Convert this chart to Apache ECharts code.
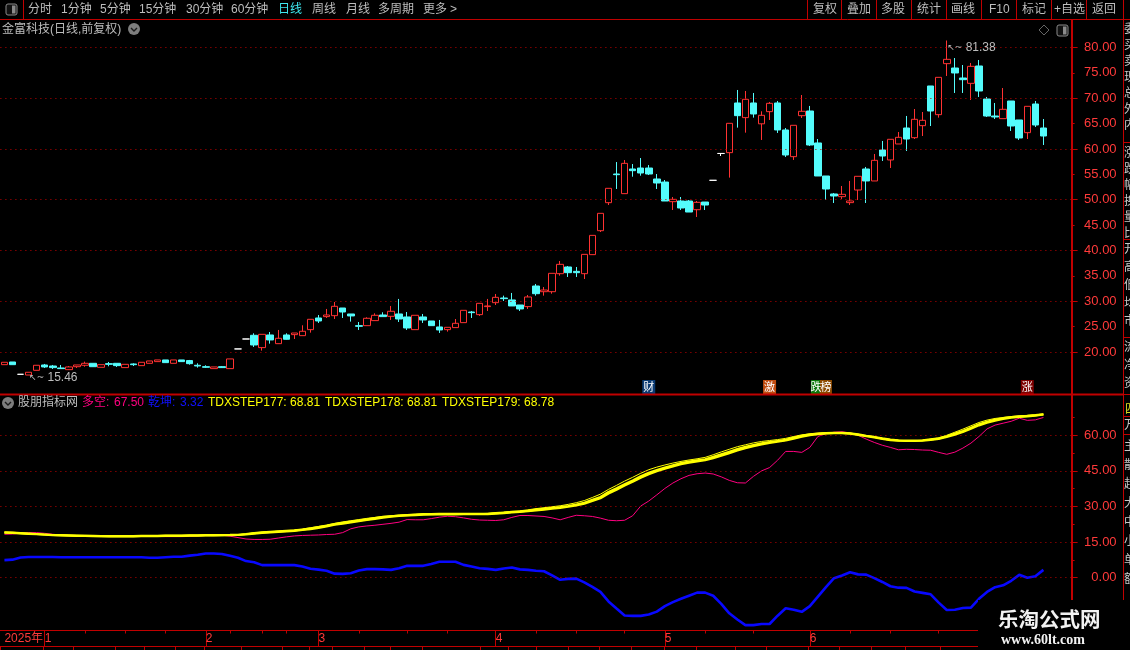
<!DOCTYPE html>
<html><head><meta charset="utf-8">
<style>html,body{margin:0;padding:0;background:#000;overflow:hidden}#c{width:1130px;height:650px}</style>
<script src="https://cdn.jsdelivr.net/npm/echarts@6/dist/echarts.min.js"></script>
</head><body><div id="c"></div>
<script>
const opens=[17.5,18.03,15.6,15.46,16.39,17.44,17.24,16.85,16.52,17.1,
17.38,17.77,16.98,17.7,17.77,16.92,17.64,17.31,17.77,18.1,
18.43,17.77,18.43,18.3,17.38,17.11,16.72,17.11,16.72,20.6,
22.56,23.29,20.86,23.35,21.64,23.35,23.42,23.22,24.4,26.7,
26.97,27.16,28.67,27.49,25.19,25.19,26.18,27.29,27.03,27.49,
26.9,24.4,26.9,26.11,24.93,24.4,24.8,25.78,27.88,27.36,
28.94,29.72,30.64,30.25,29.26,28.94,33.0,31.88,31.88,35.43,
36.75,35.89,35.43,39.18,43.9,49.42,55.07,51.2,56.06,56.25,
56.25,54.09,53.49,49.62,49.75,49.75,48.04,49.55,53.83,59.12,
59.28,69.07,66.18,69.07,64.96,67.36,69.07,63.75,58.49,66.57,
67.49,61.19,54.68,51.14,50.61,49.43,51.92,56.06,53.7,59.81,
57.84,60.99,64.14,62.23,64.6,72.42,66.77,76.82,75.96,73.99,
72.94,76.36,69.85,66.5,65.98,69.46,65.72,63.22,68.87,64.14];
const closes=[17.97,17.5,15.6,16.0,17.38,17.05,16.92,16.72,17.05,17.44,
17.77,17.1,17.5,17.57,17.31,17.57,17.5,17.97,18.23,18.43,
17.9,18.43,18.1,17.7,17.24,16.98,17.05,16.92,18.63,20.6,
22.56,21.38,23.48,22.37,22.7,22.5,23.74,24.08,26.44,26.11,
27.29,29.0,27.88,27.1,25.06,26.64,27.23,26.97,28.02,26.5,
24.73,27.23,26.31,25.19,24.34,24.86,25.65,28.21,27.75,29.59,
29.07,30.77,30.51,29.07,28.48,30.84,31.49,32.21,35.5,37.27,
35.63,35.63,39.24,42.98,47.32,52.25,54.94,57.17,55.73,55.27,
55.07,53.3,49.75,50.08,48.37,47.58,49.49,48.96,53.83,59.12,
65.06,66.57,69.79,66.9,66.64,69.0,63.75,58.82,64.67,67.43,
60.79,54.68,52.12,50.74,51.07,49.76,54.62,53.7,57.77,58.62,
61.91,62.3,61.97,65.85,65.65,67.49,74.12,77.67,74.98,73.66,
76.29,71.43,66.5,66.31,67.82,64.53,62.17,68.41,64.73,62.56];
const lows=[17.5,17.5,15.6,15.46,16.39,16.85,16.65,16.65,16.46,16.85,
17.1,17.1,16.98,17.18,17.05,16.92,17.24,17.31,17.77,18.1,
17.9,17.77,18.1,17.5,16.92,16.85,16.72,16.85,16.72,20.6,
22.56,20.99,20.27,21.64,21.64,22.44,22.56,23.22,23.81,25.72,
26.7,26.5,26.7,25.98,24.34,25.19,26.18,26.97,26.31,25.91,
24.34,24.4,25.72,25.19,23.75,24.01,24.8,25.78,26.7,27.1,
28.08,29.26,30.05,29.07,28.08,28.48,31.1,31.1,31.49,35.04,
34.78,34.78,34.38,39.18,43.64,48.96,52.12,51.2,54.54,54.74,
54.87,52.12,49.75,47.98,47.98,47.58,46.6,47.98,53.83,58.62,
54.36,64.21,63.22,66.18,61.78,65.72,63.16,58.43,57.84,66.11,
60.6,54.68,49.95,49.36,50.15,48.97,49.95,49.36,53.7,57.64,
56.26,60.99,59.61,61.97,62.56,64.53,66.18,74.39,71.04,71.04,
69.66,70.25,66.31,65.91,65.98,63.55,61.78,61.97,64.34,60.79];
const highs=[17.97,18.03,15.6,16.0,17.38,17.64,17.44,17.44,17.24,17.44,
18.1,17.77,17.5,18.03,17.77,17.57,17.77,17.97,18.23,18.43,
18.43,18.43,18.43,18.43,17.77,17.38,17.05,17.24,18.63,20.6,
22.56,23.68,23.48,23.94,24.34,23.68,23.74,25.26,26.44,27.29,
28.48,29.85,28.67,27.49,25.91,26.83,27.62,27.82,29.07,30.45,
27.88,27.23,27.49,26.11,26.31,24.86,26.5,28.21,28.08,29.59,
30.45,31.43,31.1,31.63,29.26,31.23,33.4,32.8,35.5,37.93,
36.94,36.75,39.24,42.98,47.32,52.25,57.43,57.83,57.04,58.22,
56.84,55.07,53.89,50.54,50.54,49.95,49.75,49.55,53.83,59.12,
65.06,71.63,71.43,71.04,67.43,69.27,69.46,64.14,64.67,70.64,
68.48,61.97,54.68,51.33,52.71,53.7,54.62,56.46,59.02,61.58,
61.91,63.35,66.51,67.88,67.29,72.42,74.12,81.38,77.93,76.55,
76.95,77.54,70.25,69.07,72.02,69.46,65.72,68.41,69.46,65.91];
const duokong=[18.3,18.4,18.7,19.0,19.0,18.7,18.3,18.0,17.8,17.7,
17.6,17.5,17.5,17.5,17.5,17.5,17.5,17.5,17.5,17.4,
17.3,17.3,17.3,17.4,17.6,17.8,17.9,17.9,17.5,16.9,
16.3,16.1,16.1,16.2,16.7,17.2,17.6,17.8,17.9,18.0,
18.2,18.3,19.0,20.6,21.4,21.8,22.1,22.5,22.9,23.4,
24.5,24.4,24.4,24.9,25.5,25.9,25.7,25.2,24.6,24.3,
24.2,24.1,24.4,25.4,26.2,26.2,26.0,25.8,25.2,24.4,
25.4,26.3,26.1,25.8,25.1,24.2,24.0,24.2,26.1,30.2,
32.3,34.9,37.6,39.9,41.7,43.1,43.8,44.1,43.7,42.5,
41.0,40.0,39.9,42.7,45.0,46.4,49.5,53.2,53.2,52.8,
54.9,59.5,60.7,61.3,61.5,61.0,60.0,58.4,57.0,55.8,
54.9,53.9,54.1,54.0,53.8,53.7,52.8,52.0,52.9,54.6,
56.7,59.5,62.7,64.3,65.1,65.9,67.2,66.3,66.5,67.5];
const qiankun=[7.4,7.6,8.5,8.7,8.7,8.7,8.7,8.6,8.6,8.6,
8.6,8.6,8.6,8.6,8.6,8.6,8.6,8.6,8.4,8.4,
8.6,8.8,8.8,9.3,9.7,10.2,10.2,10.0,9.2,8.4,
7.0,6.5,5.3,5.3,5.3,5.3,5.3,4.7,3.8,3.4,
2.9,1.7,1.6,1.9,3.0,3.6,3.6,3.5,3.3,4.0,
5.0,5.0,5.0,5.8,6.7,6.7,6.7,5.4,4.7,4.0,
3.7,3.3,3.9,4.3,3.5,3.3,2.9,2.7,1.0,-0.9,
-0.5,-0.4,-2.0,-3.9,-6.0,-10.0,-13.0,-15.9,-16.1,-16.1,
-15.5,-14.3,-12.0,-10.3,-8.9,-7.6,-6.3,-6.3,-7.6,-11.0,
-15.0,-17.6,-20.0,-20.0,-19.5,-19.5,-16.0,-12.9,-13.5,-14.4,
-12.0,-8.0,-4.0,-0.2,0.9,2.3,1.4,1.3,-0.2,-1.8,
-3.6,-4.2,-4.3,-5.8,-6.4,-7.0,-10.5,-13.6,-13.5,-12.8,
-12.6,-8.9,-6.0,-4.0,-3.2,-1.3,1.2,0.0,0.6,3.3];
const step178=[19.1,19.0,18.8,18.6,18.4,18.2,18.0,17.9,17.8,17.7,
17.6,17.6,17.5,17.5,17.5,17.5,17.5,17.6,17.6,17.6,
17.7,17.7,17.7,17.8,17.8,17.9,17.9,17.95,18.0,18.06,
18.4,18.8,19.1,19.3,19.5,19.7,19.9,20.3,20.8,21.3,
21.9,22.6,23.1,23.6,24.1,24.6,25.1,25.6,25.9,26.2,
26.4,26.6,26.75,26.8,26.85,26.85,26.85,26.9,26.9,26.9,
26.95,27.2,27.4,27.7,27.9,28.2,28.7,29.0,29.4,29.7,
30.2,30.8,31.6,32.8,34.0,36.1,37.7,39.4,41.0,42.7,
44.2,45.4,46.4,47.4,48.3,48.9,49.4,49.9,50.9,52.0,
53.1,54.2,55.1,55.9,56.6,57.1,57.6,58.1,59.0,59.8,
60.4,60.7,60.95,61.0,61.0,60.85,60.4,59.8,59.3,58.7,
58.2,57.9,57.75,57.75,57.9,58.3,58.7,59.6,60.7,61.8,
63.2,64.6,65.7,66.6,67.2,67.7,68.0,68.2,68.5,68.81];
const step177=[19.1,19.0,18.8,18.6,18.4,18.2,18.0,17.9,17.8,17.7,
17.6,17.6,17.5,17.5,17.5,17.5,17.5,17.6,17.6,17.6,
17.7,17.7,17.7,17.8,17.8,17.9,17.9,17.95,18.0,18.1,
18.5,18.9,19.2,19.4,19.6,19.8,20.0,20.5,21.0,21.6,
22.2,22.9,23.5,24.0,24.5,25.0,25.4,25.8,26.1,26.4,
26.6,26.7,26.8,26.9,26.9,26.9,26.9,27.0,27.0,27.0,
27.1,27.3,27.6,27.9,28.2,28.6,29.1,29.5,29.9,30.3,
30.9,31.6,32.5,33.8,35.2,37.2,38.9,40.7,42.3,44.0,
45.5,46.6,47.5,48.3,49.0,49.6,50.1,50.7,51.8,53.0,
54.1,55.2,56.0,56.8,57.4,57.8,58.2,58.7,59.5,60.2,
60.6,60.9,61.1,61.1,61.0,60.85,60.4,59.8,59.3,58.7,
58.2,57.9,57.75,57.75,57.9,58.3,58.9,60.0,61.3,62.6,
64.0,65.4,66.4,67.1,67.5,67.9,68.2,68.4,68.6,68.81];
const step179=[19.0,18.9,18.7,18.5,18.3,18.1,17.9,17.8,17.7,17.6,
17.6,17.5,17.5,17.4,17.4,17.4,17.4,17.5,17.5,17.5,
17.6,17.6,17.6,17.7,17.7,17.8,17.8,17.9,17.9,18.0,
18.2,18.6,18.9,19.1,19.3,19.5,19.7,20.1,20.5,21.0,
21.6,22.3,22.8,23.3,23.8,24.3,24.8,25.3,25.7,26.0,
26.2,26.4,26.6,26.7,26.7,26.7,26.7,26.8,26.8,26.8,
26.8,27.0,27.2,27.5,27.7,28.0,28.4,28.7,29.1,29.4,
29.9,30.5,31.2,32.3,33.5,35.5,37.1,38.8,40.4,42.1,
43.6,44.9,45.9,46.9,47.8,48.5,49.0,49.5,50.4,51.4,
52.5,53.6,54.6,55.4,56.2,56.8,57.3,57.8,58.6,59.4,
60.1,60.5,60.8,60.9,60.9,60.7,60.2,59.6,59.1,58.5,
58.0,57.7,57.6,57.6,57.7,58.1,58.5,59.3,60.3,61.4,
62.8,64.2,65.3,66.2,66.9,67.4,67.8,68.0,68.3,68.78];
const priceMajor=[20,30,40,50,60,70,80];
const priceMinor=[25,35,45,55,65,75];
const priceLabels=[20,25,30,35,40,45,50,55,60,65,70,75,80];
const indMajor=[0,15,30,45,60];
const indMinor=[7.5,22.5,37.5,52.5,67.5];
const slotCount=133;
const monthLabels={0:'2025年',5:'1',25:'2',39:'3',61:'4',82:'5',100:'6'};
const weekTicks=[10,15,20,28,32,35,44,50,55,66,71,77,87,93,105,110,116];
const eventTags=[[80,'财','#0a3a72',13,0],[95,'激','#c04c10',13,0],[101,'跌','#0a780a',10,-2],[102,'榜','#8c4a00',12,0],[127,'涨','#7c0000',13,0]];
const toolbarLeft=[['分时',28],['1分钟',61],['5分钟',100],['15分钟',139],['30分钟',186],['60分钟',231],['日线',278,'#3fe8f0'],['周线',312],['月线',346],['多周期',378],['更多',423],['>',450]];
const toolbarRight=[['复权',813],['叠加',847],['多股',881],['统计',917],['画线',951],['F10',989],['标记',1022],['+自选',1054],['返回',1092]];
const toolbarSeps=[807.5,841.5,876.5,911.5,946.5,981.5,1016.5,1051.5,1086.5,1123.5];
const legendBits=[['多空:',82,'#ff0080'],['67.50',114,'#ff0080'],['乾坤:',148,'#1010ff'],['3.32',180,'#1010ff'],['TDXSTEP177: 68.81',208,'#ffff00'],['TDXSTEP178: 68.81',325,'#ffff00'],['TDXSTEP179: 68.78',442,'#ffff00']];
const sideRows=[[28,'委'],[44,'买'],[60,'卖'],[76,'现'],[92,'总'],[108,'外'],[124,'内'],[152,'涨'],[168,'跌'],[184,'幅'],[200,'换'],[216,'量'],[232,'比'],[248,'开'],[266,'高'],[284,'低'],[302,'均'],[320,'市'],[346,'流'],[364,'净'],[382,'资'],[424,'万'],[445,'主'],[464,'散'],[483,'超'],[502,'大'],[521,'中'],[540,'小'],[559,'单'],[578,'额']];
const tabSeps=[0,43,73,115,144,175,204,241,282,309,332,364,390,422,480,508,536,568,599,631,664,696,735,766,808,839,871,905,940];

const SANS='"Liberation Sans","Noto Sans CJK SC",sans-serif';
const CJK='"Noto Sans CJK SC",sans-serif';
const RED='#c00000', LABEL='#ff3a3a', GRAY='#bdbdbd';
const cats=Array.from({length:slotCount},(_,i)=>monthLabels[i]||'');
const candle=opens.map((o,i)=>[o,closes[i],lows[i],highs[i]]);

const g=[];
const t=(x,y,s,fill,font,z,extra)=>g.push({type:'text',x,y,z:z||20,silent:true,style:Object.assign({text:s,fill,font:font||('12px '+CJK),textVerticalAlign:'middle',textBaseline:'middle'},extra||{})});
const ln=(x1,y1,x2,y2,c,w,z)=>g.push({type:'line',z:z||20,silent:true,shape:{x1,y1,x2,y2},style:{stroke:c||RED,lineWidth:w||1}});
const chev=(cx,cy)=>{g.push({type:'circle',z:20,silent:true,shape:{cx,cy,r:6},style:{fill:'#7d7d7d'}});
 g.push({type:'polyline',z:21,silent:true,shape:{points:[[cx-3,cy-1],[cx,cy+2],[cx+3,cy-1]]},style:{stroke:'#1a1a1a',lineWidth:1.4,fill:null}});};
const boxIcon=(x,y)=>{g.push({type:'rect',z:20,silent:true,shape:{x,y,width:11,height:11,r:2},style:{fill:'#111',stroke:'#8a8a8a',lineWidth:1}});
 g.push({type:'rect',z:21,silent:true,shape:{x:x+6,y:y+1.5,width:3.5,height:8},style:{fill:'#8a8a8a'}});};

ln(0,19.5,1130,19.5,RED,1);
ln(23.5,0,23.5,19,RED,1);
boxIcon(6,4);
toolbarLeft.forEach(a=>t(a[1],10,a[0],a[2]||GRAY,'12px '+SANS));
toolbarRight.forEach(a=>t(a[1],10,a[0],GRAY,'12px '+SANS));
toolbarSeps.forEach(x=>ln(x,0,x,19,RED,1));
t(2,29.5,'金富科技(日线,前复权)',GRAY,'12px '+SANS);
chev(134,29);
g.push({type:'polygon',z:20,silent:true,shape:{points:[[1044,25],[1049,30],[1044,35],[1039,30]]},style:{fill:null,stroke:'#666',lineWidth:1}});
boxIcon(1057,25);
ln(1123.5,0,1123.5,650,RED,1);
ln(0,394.5,1123,394.5,RED,2);
[142,239,337,394,416,434].forEach(y=>ln(1124,y+.5,1130,y+.5,RED,1));
chev(8,403);
t(18,403,'股朋指标网',GRAY,'12px '+SANS);
legendBits.forEach(a=>t(a[1],403,a[0],a[2],'12px '+SANS));
sideRows.forEach(a=>t(1124,a[0],a[1],'#c8c8c8','12px '+CJK,3));
t(1125,408,'四','#d8d820','12px '+CJK,3);
tabSeps.forEach(x=>ln(x+.5,647,x+.5,650,RED,1));
g.push({type:'rect',z:60,silent:true,shape:{x:978,y:600,width:152,height:50},style:{fill:'#000'}});
t(998,619,'乐淘公式网','#f2f2f2','bold 20.5px '+CJK,61,{shadowColor:'#888',shadowBlur:2});
t(1001,640,'www.60lt.com','#f2f2f2','bold 14px "Liberation Serif",serif',61);

const tagData=eventTags.map(e=>({coord:[e[0],13.1],value:e[1],symbolSize:[e[3],14],symbolOffset:[e[4],0],itemStyle:{color:e[2]},label:{show:true,formatter:e[1],color:'#fff',fontSize:11,fontFamily:CJK,position:'inside'}}));
const note=(i,v,dy)=>({coord:[i,v],value:v,symbol:'circle',symbolSize:1,itemStyle:{color:'rgba(0,0,0,0)'},label:{show:true,position:'right',distance:0,formatter:'{a|↖~} '+v.toFixed(2),color:GRAY,fontSize:12,fontFamily:SANS,offset:[0,dy],rich:{a:{fontSize:9,color:GRAY,fontFamily:'"DejaVu Sans"'}}}});
const extremes=[note(3,15.46,3),note(117,81.38,7)];
const dots=vals=>({silent:true,symbol:'none',animation:false,label:{show:false},lineStyle:{color:'#c00000',type:[1,4],width:1},emphasis:{disabled:true},data:vals.map(v=>({yAxis:v}))});
const mainAxis=(gi,major,labels,min,max)=>({type:'value',gridIndex:gi,position:'right',min,max,scale:false,splitLine:{show:false},
  axisLine:{show:true,lineStyle:{color:RED,width:2}},
  axisTick:{show:true,customValues:major,length:6,lineStyle:{color:RED,width:1}},
  axisLabel:{show:true,customValues:labels,formatter:v=>Number(v).toFixed(2),color:LABEL,fontSize:13,fontFamily:SANS,margin:45,align:'right',hideOverlap:false,padding:[2,0,0,0]}});
const minorAxis=(gi,vals,min,max)=>({type:'value',gridIndex:gi,position:'right',min,max,splitLine:{show:false},axisLine:{show:false},axisLabel:{show:false},axisTick:{show:true,customValues:vals,length:3,lineStyle:{color:RED,width:1}}});
const hiddenX=gi=>({type:'category',gridIndex:gi,data:cats,boundaryGap:true,axisLine:{show:false},axisTick:{show:false},axisLabel:{show:false},splitLine:{show:false}});
const line=(name,data,color,width,z)=>({name,type:'line',xAxisIndex:1,yAxisIndex:2,data,symbol:'none',silent:true,z:z,animation:false,lineStyle:{color,width},itemStyle:{color}});

const option={
 backgroundColor:'#000',animation:false,
 grid:[
  {left:0.4,width:1071.2,top:20,height:374},
  {left:0.4,width:1071.2,top:395,height:235},
  {left:0.4,width:1071.2,top:630.5,height:15.5}
 ],
 xAxis:[hiddenX(0),hiddenX(1),
  {type:'category',gridIndex:2,position:'top',data:cats,boundaryGap:true,
   axisLine:{show:true,onZero:false,lineStyle:{color:RED,width:1}},
   axisTick:{show:true,inside:true,length:15.5,alignWithLabel:true,interval:i=>i!==0&&!!monthLabels[i],lineStyle:{color:RED,width:1}},
   axisLabel:{show:true,inside:true,interval:i=>!!monthLabels[i],margin:2,align:'left',color:LABEL,fontSize:12,fontFamily:SANS}},
  {type:'category',gridIndex:2,position:'bottom',data:cats,boundaryGap:true,
   axisLine:{show:true,onZero:false,lineStyle:{color:RED,width:1}},
   axisTick:{show:false},axisLabel:{show:false}},
  {type:'category',gridIndex:2,position:'top',data:cats,boundaryGap:true,
   axisLine:{show:false,onZero:false},
   axisTick:{show:true,inside:true,length:3,alignWithLabel:true,interval:i=>weekTicks.includes(i),lineStyle:{color:RED,width:1}},axisLabel:{show:false}}
 ],
 yAxis:[
  mainAxis(0,priceMajor,priceLabels,11.72,85.42),
  minorAxis(0,priceMinor,11.72,85.42),
  mainAxis(1,indMajor,indMajor,-22.04,76.98),
  minorAxis(1,indMinor,-22.04,76.98),
  {type:'value',gridIndex:2,min:0,max:1,show:false}
 ],
 series:[
  {name:'K',type:'candlestick',xAxisIndex:0,yAxisIndex:0,data:candle,barWidth:7,animation:false,silent:true,
   itemStyle:{color:'#000',color0:'#54fcfc',borderColor:'#ff3232',borderColor0:'#54fcfc',borderColorDoji:'#ffffff',borderWidth:1},
   markLine:dots(priceMajor),
   markPoint:{silent:true,animation:false,symbol:'rect',symbolSize:[13,14],data:tagData.concat(extremes)}},
  Object.assign(line('多空',duokong,'#ff0080',1,2),{markLine:dots(indMajor)}),
  line('乾坤',qiankun,'#0808ff',2.6,3),
  line('TDXSTEP177',step177,'#ffff00',1,4),
  line('TDXSTEP178',step178,'#ffff00',2.2,5),
  line('TDXSTEP179',step179,'#ffff00',2.2,5)
 ],
 graphic:{elements:g}
};
const chart=echarts.init(document.getElementById('c'),null,{renderer:'canvas',width:1130,height:650});
chart.setOption(option);
</script></body></html>
